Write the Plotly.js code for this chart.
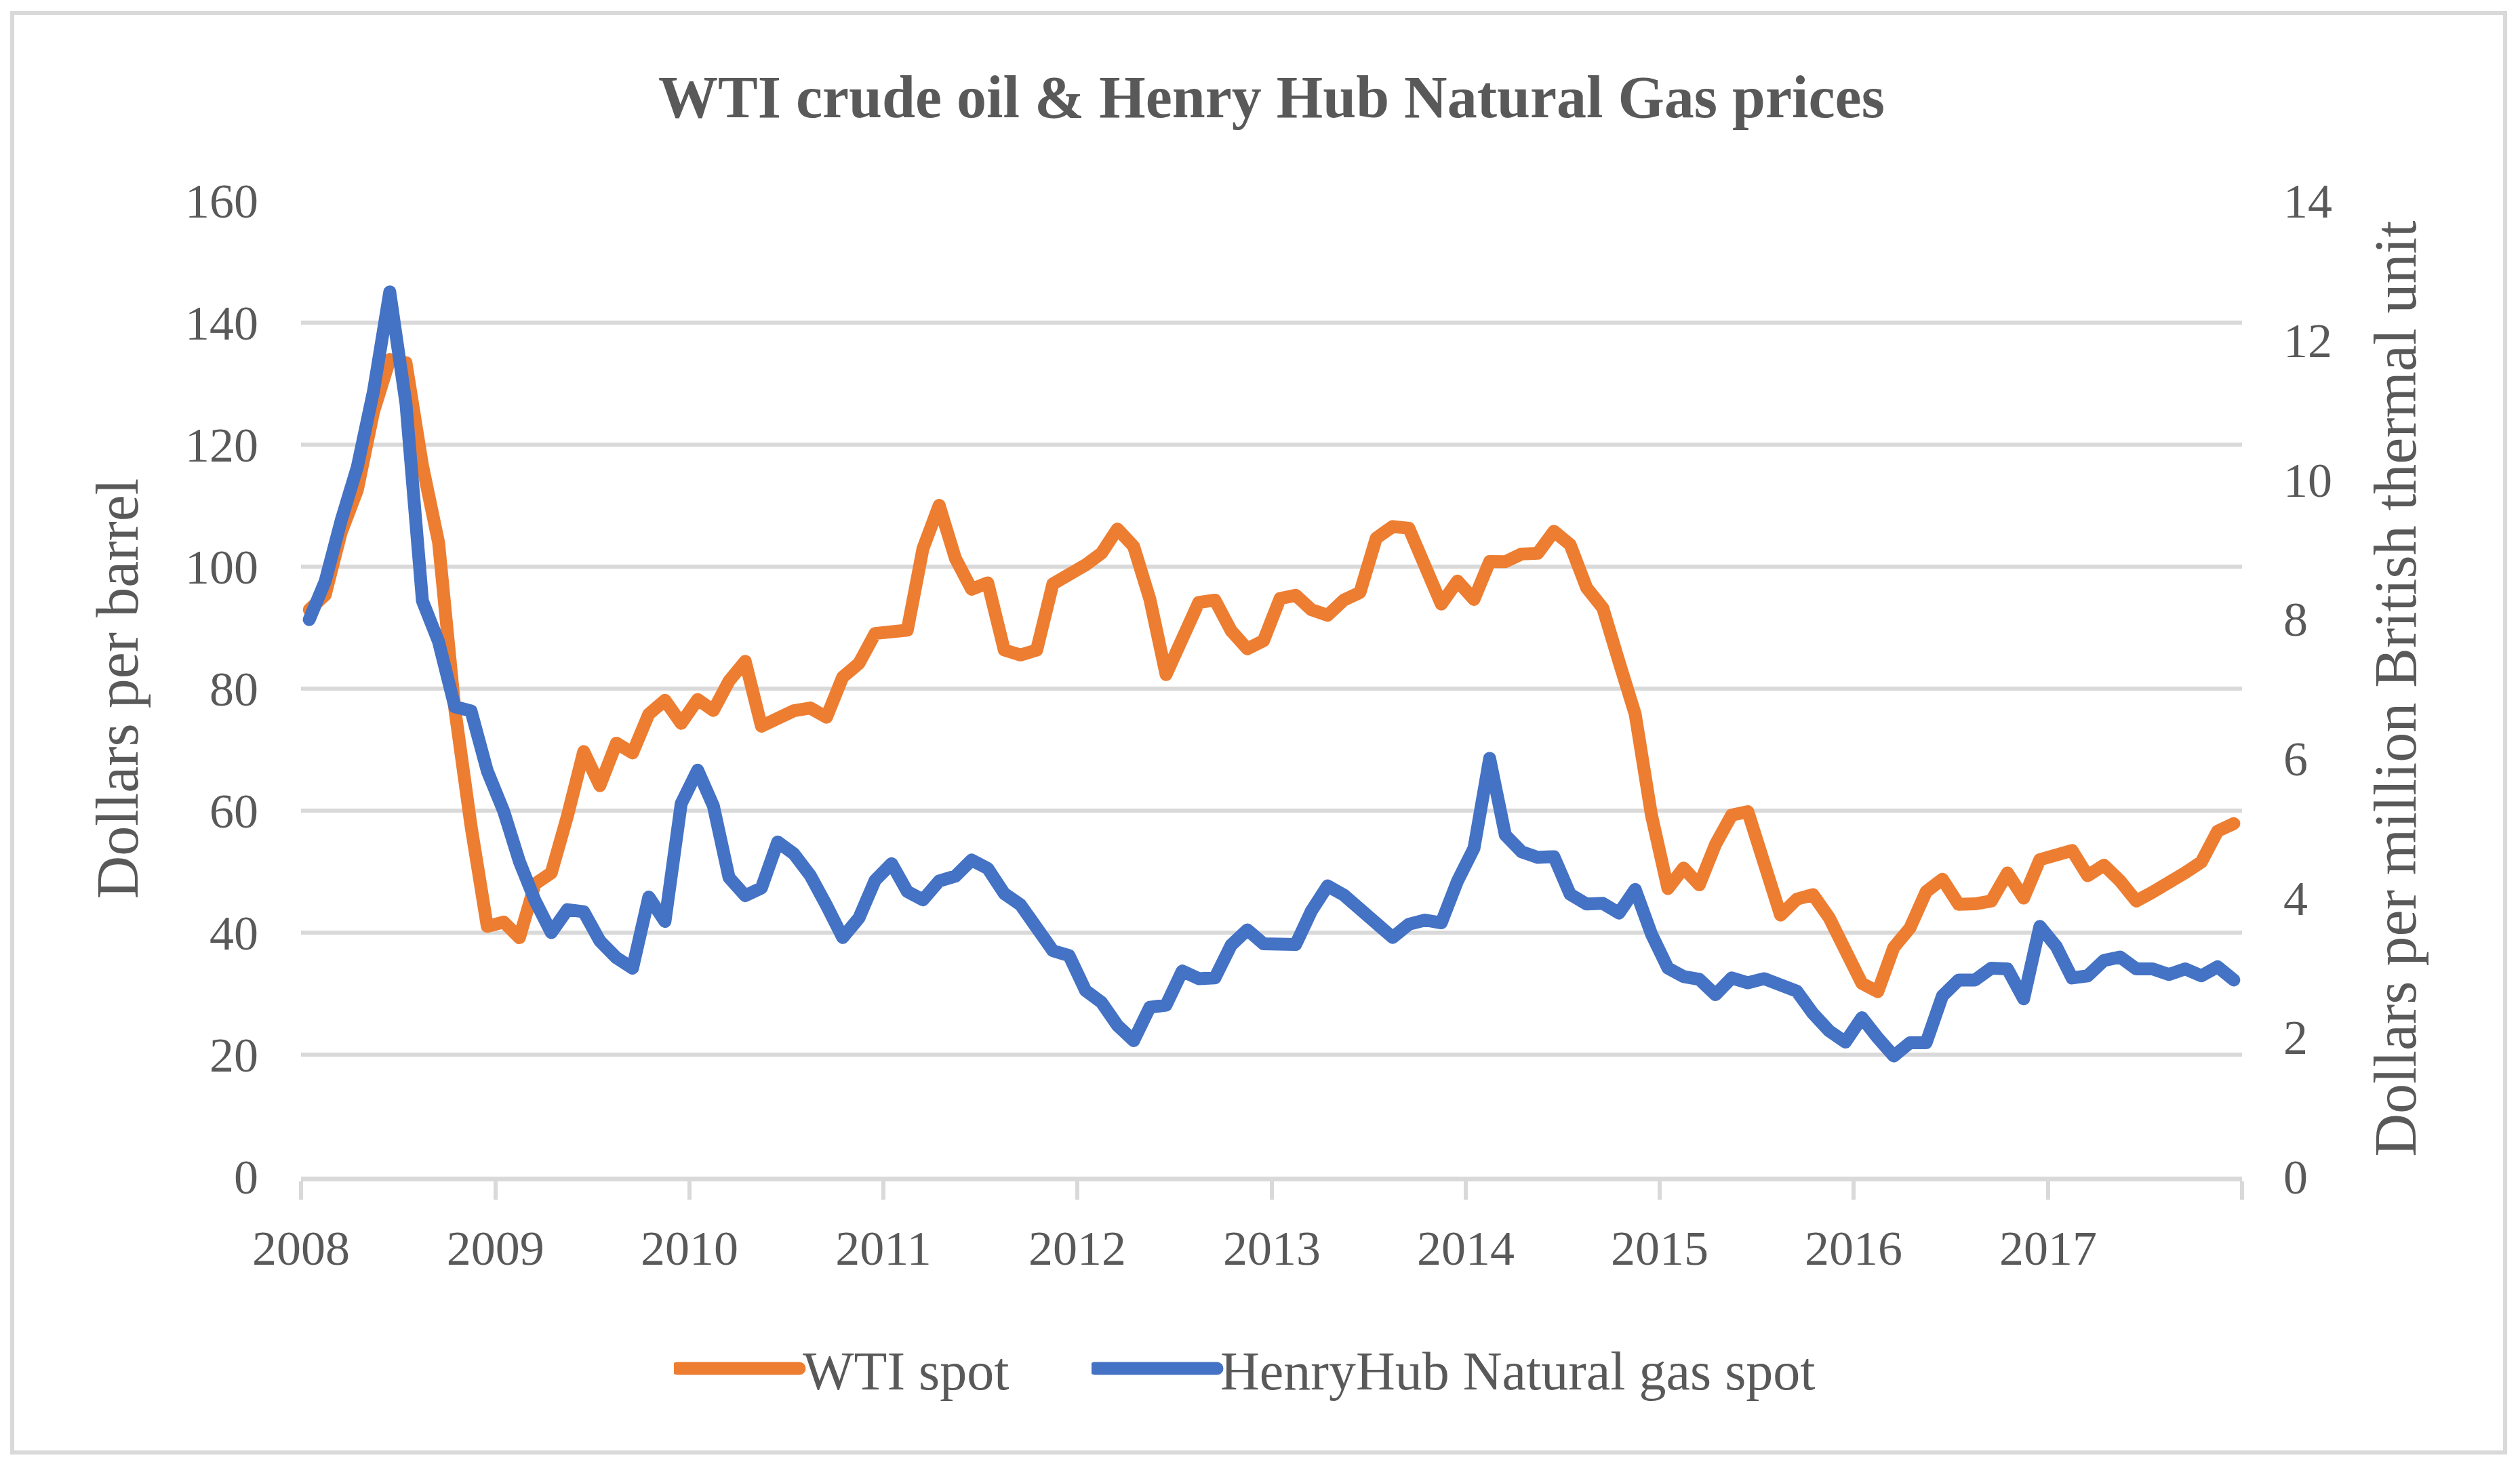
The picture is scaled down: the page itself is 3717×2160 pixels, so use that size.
<!DOCTYPE html>
<html>
<head>
<meta charset="utf-8">
<script src="https://cdn.plot.ly/plotly-3.0.1.min.js"></script>
<style>
  html, body { margin: 0; padding: 0; background: #ffffff; }
  #chart { width: 3717px; height: 2160px; }
  .js-line { stroke-linejoin: round; stroke-linecap: round; }
  g.legendlines path.js-line { stroke-width: 19px !important; }
</style>
</head>
<body>
<div id="chart"></div>
<script>
// monthly averages, Jan 2008 .. Dec 2017
const years = [2008, 2009, 2010, 2011, 2012, 2013, 2014, 2015, 2016, 2017];

const wtiSpot = [
  92.95, 95.35, 105.56, 112.57, 125.39, 133.93, 133.44, 116.61, 103.90, 76.65, 57.44, 41.02,
  41.74, 39.16, 47.98, 49.79, 59.16, 69.68, 64.09, 71.06, 69.46, 75.82, 78.08, 74.30,
  78.22, 76.42, 81.24, 84.48, 73.84, 75.35, 76.37, 76.82, 75.31, 81.90, 84.14, 89.04,
  89.42, 89.58, 102.94, 110.04, 101.36, 96.29, 97.34, 86.33, 85.52, 86.32, 97.16, 98.56,
  100.27, 102.20, 106.16, 103.32, 94.66, 82.30, 87.90, 94.13, 94.51, 89.49, 86.53, 87.86,
  94.76, 95.31, 92.94, 92.02, 94.51, 95.77, 104.67, 106.57, 106.29, 100.54, 93.86, 97.63,
  94.62, 100.82, 100.80, 102.07, 102.18, 105.79, 103.59, 96.54, 93.21, 84.40, 75.79, 59.29,
  47.22, 50.58, 47.82, 54.45, 59.27, 59.82, 50.90, 42.87, 45.48, 46.22, 42.44, 37.19,
  31.68, 30.32, 37.55, 40.75, 46.71, 48.76, 44.65, 44.72, 45.18, 49.78, 45.66, 51.97,
  52.50, 53.47, 49.33, 51.06, 48.48, 45.18, 46.63, 48.04, 49.82, 51.58, 56.64, 57.88
];

const henryHubSpot = [
  7.99, 8.54, 9.41, 10.18, 11.27, 12.69, 11.09, 8.26, 7.67, 6.74, 6.68, 5.82,
  5.24, 4.52, 3.96, 3.50, 3.83, 3.80, 3.38, 3.14, 2.99, 4.01, 3.66, 5.35,
  5.83, 5.32, 4.29, 4.03, 4.14, 4.80, 4.63, 4.32, 3.89, 3.43, 3.71, 4.25,
  4.49, 4.09, 3.97, 4.24, 4.31, 4.54, 4.42, 4.06, 3.90, 3.57, 3.24, 3.17,
  2.67, 2.50, 2.17, 1.95, 2.43, 2.46, 2.95, 2.84, 2.85, 3.32, 3.54, 3.34,
  3.33, 3.33, 3.81, 4.17, 4.04, 3.83, 3.62, 3.43, 3.62, 3.68, 3.64, 4.24,
  4.71, 6.00, 4.90, 4.66, 4.58, 4.59, 4.05, 3.91, 3.92, 3.78, 4.12, 3.48,
  2.99, 2.87, 2.83, 2.61, 2.85, 2.78, 2.84, 2.77, 2.66, 2.34, 2.09, 1.93,
  2.28, 1.99, 1.73, 1.92, 1.92, 2.59, 2.82, 2.82, 2.99, 2.98, 2.55, 3.59,
  3.30, 2.85, 2.88, 3.10, 3.15, 2.98, 2.98, 2.90, 2.98, 2.88, 3.01, 2.82
];

const months = [];
years.forEach(y => {
  for (let m = 1; m <= 12; m++) {
    months.push(y + '-' + (m < 10 ? '0' + m : m) + '-01');
  }
});

// year ticks, plus an unlabelled one closing the axis
const yearTicks = years.map(y => y + '-01-01').concat(['2018-01-01']);
const yearLabels = years.map(String).concat(['']);

const W = 3717, H = 2160;
const mar = {l: 444, r: 410, t: 296, b: 424, pad: 0};
const plotW = W - mar.l - mar.r;
const plotH = H - mar.t - mar.b;
// page pixels -> paper coordinates (frame, legends)
const px = x => (x - mar.l) / plotW;
const py = y => (H - mar.b - y) / plotH;

const textColor = '#595959';
const gridColor = '#d9d9d9';
const serif = '"Liberation Serif", "Times New Roman", serif';

const traces = [
  {
    x: months,
    y: wtiSpot,
    name: 'WTI spot',
    type: 'scatter',
    mode: 'lines',
    xperiod: 'M1',
    xperiodalignment: 'middle',
    line: {color: '#ED7D31', width: 19},
    yaxis: 'y',
    legend: 'legend'
  },
  {
    x: months,
    y: henryHubSpot,
    name: 'HenryHub Natural gas spot',
    type: 'scatter',
    mode: 'lines',
    xperiod: 'M1',
    xperiodalignment: 'middle',
    line: {color: '#4472C4', width: 19},
    yaxis: 'y2',
    legend: 'legend2'
  }
];

function legendAt(left) {
  return {
    orientation: 'h',
    x: px(left),
    xanchor: 'left',
    y: py(2019),
    yanchor: 'middle',
    font: {family: serif, size: 80, color: textColor},
    itemwidth: 180,
    bgcolor: 'rgba(0,0,0,0)'
  };
}

const layout = {
  width: W,
  height: H,
  margin: mar,
  paper_bgcolor: '#ffffff',
  plot_bgcolor: '#ffffff',
  font: {family: serif, color: textColor, size: 72},
  title: {
    text: '<b>WTI crude oil & Henry Hub Natural Gas prices</b>',
    font: {family: serif, size: 88, color: textColor},
    x: 0.5,
    xref: 'paper',
    xanchor: 'center',
    y: 1 - 142 / H,
    yref: 'container',
    yanchor: 'middle'
  },
  xaxis: {
    type: 'date',
    range: ['2008-01-01', '2018-01-01'],
    tickmode: 'array',
    tickvals: yearTicks,
    ticktext: yearLabels,
    showgrid: false,
    zeroline: false,
    showline: true,
    linecolor: gridColor,
    linewidth: 7,
    ticks: 'outside',
    ticklen: 27,
    tickwidth: 6,
    tickcolor: gridColor,
    ticklabelstandoff: 10,
    tickfont: {family: serif, size: 72, color: textColor},
    fixedrange: true
  },
  yaxis: {
    range: [0, 160],
    dtick: 20,
    showgrid: true,
    gridcolor: gridColor,
    gridwidth: 6,
    zeroline: false,
    showline: false,
    ticks: '',
    ticklabelstandoff: 62,
    tickfont: {family: serif, size: 72, color: textColor},
    title: {
      text: 'Dollars per barrel',
      font: {family: serif, size: 88, color: textColor},
      standoff: 40
    }
  },
  yaxis2: {
    overlaying: 'y',
    side: 'right',
    range: [0, 14],
    dtick: 2,
    showgrid: false,
    zeroline: false,
    showline: false,
    ticks: '',
    ticklabelstandoff: 60,
    tickfont: {family: serif, size: 72, color: textColor},
    title: {
      text: 'Dollars per million British thermal unit',
      font: {family: serif, size: 88, color: textColor},
      standoff: 62
    }
  },
  showlegend: true,
  legend: legendAt(994),
  legend2: legendAt(1610),
  shapes: [
    {
      type: 'rect',
      xref: 'paper',
      yref: 'paper',
      x0: px(18),
      x1: px(3695),
      y0: py(2143),
      y1: py(19),
      line: {color: gridColor, width: 6},
      fillcolor: 'rgba(0,0,0,0)',
      layer: 'below'
    }
  ]
};

Plotly.newPlot('chart', traces, layout, {displayModeBar: false, staticPlot: true});
</script>
</body>
</html>
